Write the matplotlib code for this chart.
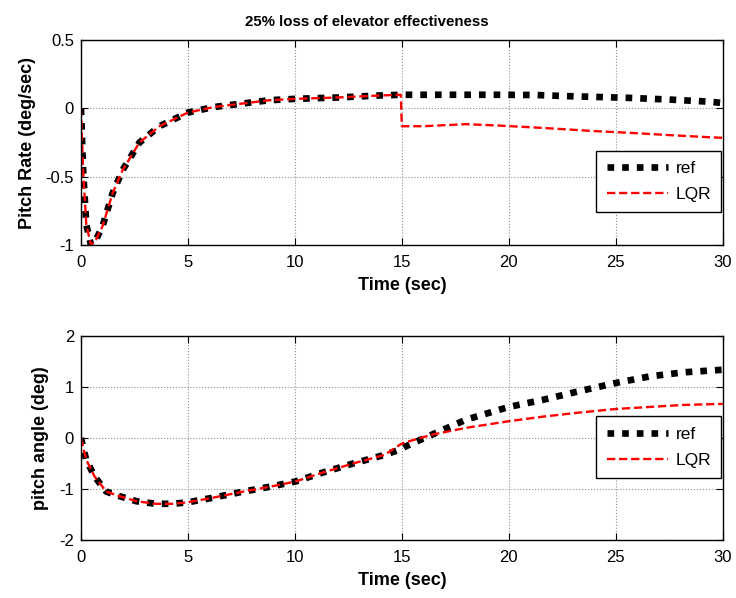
import numpy as np
import matplotlib
matplotlib.use('Agg')
import matplotlib.pyplot as plt

plt.rcParams['font.family'] = ['Liberation Sans', 'DejaVu Sans']

# pitch rate (deg/sec)
t_rate = [0, 0.1, 0.25, 0.47, 0.7, 1.0, 1.48, 1.95, 2.73, 3.67, 5.0, 6.2, 8.8,
          10, 12, 14, 14.95, 15.0, 16, 18, 19.5, 21.3, 22.7, 23.9, 25.5, 27.5, 29.3, 30]
rate_ref = [0, -0.45, -0.85, -1.0, -0.96, -0.865, -0.62, -0.45, -0.25, -0.13, -0.03, 0.01, 0.06,
            0.07, 0.08, 0.095, 0.1, 0.1, 0.1, 0.1, 0.1, 0.098, 0.09, 0.085, 0.078, 0.065, 0.05, 0.04]
rate_lqr = [0, -0.45, -0.85, -1.0, -0.96, -0.865, -0.62, -0.45, -0.25, -0.13, -0.03, 0.01, 0.06,
            0.07, 0.08, 0.095, 0.1, -0.13, -0.13, -0.115, -0.125, -0.14, -0.153, -0.165, -0.177, -0.195, -0.21, -0.215]

# pitch angle (deg)
t_ang = [0, 0.24, 0.63, 1.18, 1.8, 2.6, 3.5, 4.3, 5.0, 6.05, 7.6, 8.9, 10.05, 11.2, 12.8, 14.2,
         14.95, 15.2, 16.4, 18, 20, 21.6, 23.3, 25, 26.6, 28.2, 30]
ang_ref = [0, -0.42, -0.75, -1.05, -1.14, -1.24, -1.29, -1.29, -1.26, -1.18, -1.05, -0.95, -0.85,
           -0.69, -0.49, -0.33, -0.22, -0.16, 0.065, 0.36, 0.61, 0.75, 0.92, 1.08, 1.21, 1.29, 1.34]
ang_lqr = [0, -0.42, -0.75, -1.05, -1.14, -1.24, -1.29, -1.29, -1.26, -1.18, -1.05, -0.95, -0.85,
           -0.69, -0.49, -0.33, -0.12, -0.08, 0.065, 0.2, 0.33, 0.42, 0.5, 0.57, 0.61, 0.65, 0.67]

fig = plt.figure(figsize=(7.36, 5.98), dpi=100)
ax1 = fig.add_axes([0.110, 0.590, 0.872, 0.343])
ax2 = fig.add_axes([0.110, 0.097, 0.872, 0.341])


def draw(ax, t, ref, lqr, ylim, yticks, ylabel, leg_y):
    ax.plot(t, ref, color='black', lw=4.8, linestyle=(0, (1, 1.2)),
            dash_capstyle='butt', label='ref')
    ax.plot(t, lqr, color='red', lw=1.7, linestyle=(0, (3.5, 1.6)), label='LQR')
    ax.set_xlim(0, 30)
    ax.set_ylim(*ylim)
    ax.set_xticks(range(0, 31, 5))
    ax.set_yticks(yticks)
    ax.set_yticklabels([f'{v:g}' for v in yticks])
    ax.grid(True, linestyle=':', color='#909090', lw=0.8)
    ax.tick_params(direction='in', top=True, right=True, labelsize=12, length=5)
    ax.tick_params(axis='x', pad=7)
    ax.tick_params(axis='y', pad=5)
    for s in ax.spines.values():
        s.set_linewidth(1.0)
    ax.set_xlabel('Time (sec)', fontsize=13, fontweight='bold', labelpad=5)
    ax.set_ylabel(ylabel, fontsize=13, fontweight='bold', labelpad=7)
    leg = ax.legend(loc='lower right', bbox_to_anchor=(0.998, leg_y), fontsize=12.5,
                    fancybox=False, edgecolor='black', framealpha=1,
                    handlelength=3.5, handletextpad=0.45, borderpad=0.6, labelspacing=0.6,
                    borderaxespad=0)
    leg.get_frame().set_linewidth(1.0)


draw(ax1, t_rate, rate_ref, rate_lqr, (-1, 0.5), [-1, -0.5, 0, 0.5], 'Pitch Rate (deg/sec)', 0.161)
draw(ax2, t_ang, ang_ref, ang_lqr, (-2, 2), [-2, -1, 0, 1, 2], 'pitch angle (deg)', 0.304)
ax1.text(0.445, 1.09, '25% loss of elevator effectiveness', transform=ax1.transAxes,
         ha='center', va='center', fontsize=10.8, fontweight='bold')

fig.savefig('out.png', dpi=100)
